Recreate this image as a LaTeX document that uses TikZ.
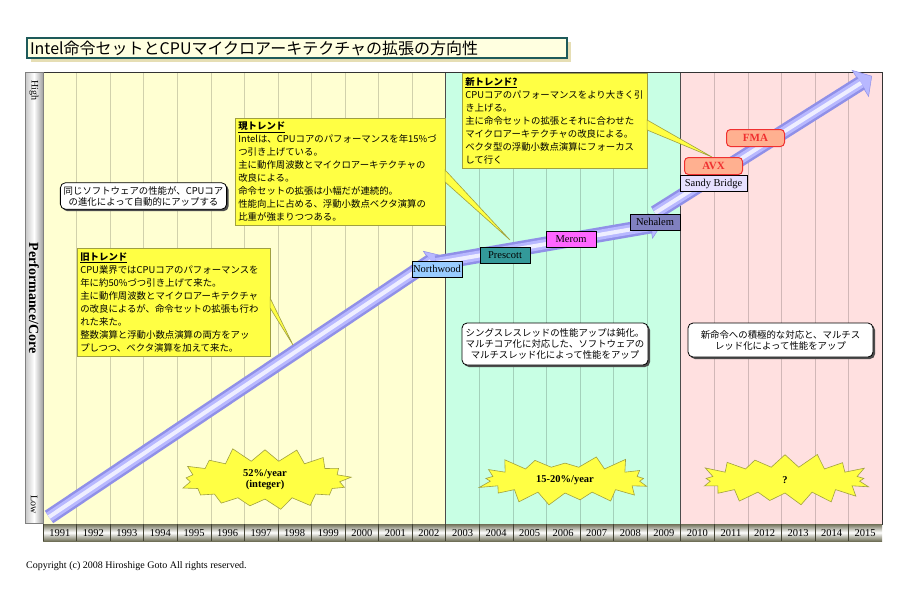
\documentclass[tikz,border=0pt]{standalone}
\usepackage{fontspec}
\usepackage{tikz}
\setmainfont{Liberation Serif}
\newfontfamily\jp{Noto Sans CJK JP}
\usetikzlibrary{shapes.symbols}
\usetikzlibrary{shadows}
\usetikzlibrary{positioning}
\usetikzlibrary{calc}
\usetikzlibrary{arrows.meta}
\definecolor{oldbg}{HTML}{FFFFD2}
\definecolor{curbg}{HTML}{C8FFE4}
\definecolor{newbg}{HTML}{FFE0E0}
\definecolor{memo}{HTML}{FFFF44}
\definecolor{memoline}{HTML}{A0A040}
\definecolor{tubeout}{HTML}{9090E8}
\definecolor{tubemid}{HTML}{B8B8FF}
\definecolor{tubein}{HTML}{EEEEFF}
\definecolor{titleline}{HTML}{1E5A5A}
\definecolor{titlebg}{HTML}{FFFFE0}
\definecolor{titleshadow}{HTML}{E6DEB4}
\definecolor{barolive}{HTML}{707058}
\definecolor{avxfill}{HTML}{FFB090}
\definecolor{avxline}{HTML}{F03030}
\definecolor{northwoodc}{HTML}{99CCFF}
\definecolor{prescottc}{HTML}{339999}
\definecolor{meromc}{HTML}{FF66FF}
\definecolor{nehalemc}{HTML}{8080C0}
\definecolor{sandyc}{HTML}{E6E0FF}
\tikzset{
  memo/.style={draw=memoline, fill=memo, line width=0.6pt, align=left, anchor=north west, inner sep=3pt, font=\jp\fontsize{9.4}{13}\selectfont},
  pointer/.style={draw=memoline, fill=memo, line width=0.6pt},
  note/.style={draw, fill=white, rounded corners=5pt, align=center, line width=0.8pt, font=\jp\fontsize{9.4}{11}\selectfont, drop shadow={shadow xshift=2pt, shadow yshift=-2pt, fill=black!70, opacity=1}},
  chip/.style={draw, line width=1pt, minimum width=50pt, minimum height=16pt, inner sep=1pt, font=\fontsize{10.5}{11}\selectfont},
  isa/.style={draw=avxline, fill=avxfill, rounded corners=4pt, line width=1pt, minimum width=58pt, minimum height=17pt, text=avxline, font=\bfseries\fontsize{11}{12}\selectfont},
  burst/.style={starburst, draw=memoline, fill=memo, line width=0.6pt, starburst points=17, starburst point height=15pt, minimum width=180pt, minimum height=56pt, align=center, font=\bfseries\fontsize{10.5}{11}\selectfont},
  tube/.style={line width=15pt, draw=tubeout, postaction={draw=tubemid, line width=10pt}, postaction={draw=tubein, line width=4pt}},
  gridline/.style={draw=black, draw opacity=0.18, line width=0.5pt},
  yearlbl/.style={font=\fontsize{10.5}{11}\selectfont, inner sep=0pt}
}

\begin{document}
\begin{tikzpicture}[x=1pt, y=-1pt]
\useasboundingbox (0,0) rectangle (920,600);

\fill[oldbg] (43,72) rectangle (445.7,524);
\fill[curbg] (445.7,72) rectangle (680.6,524);
\fill[newbg] (680.6,72) rectangle (882,524);
\foreach \i in {1,...,24}
  \draw[gridline] (43+\i*33.56,72) -- (43+\i*33.56,524);
\draw[black!70, line width=1pt] (445.7,72) -- (445.7,524);
\draw[black!70, line width=1pt] (680.6,72) -- (680.6,524);
\draw[black!80, line width=1pt] (43,72) rectangle (882,524);

\shade[left color=gray!45, right color=gray!75, middle color=white] (25,72) rectangle (43,523);
\draw[gray, line width=0.5pt] (25,72) rectangle (43,523);
\node (high) [rotate=-90, font=\fontsize{10}{10}\selectfont] at (34,90) {High};
\node (perf) [rotate=-90, font=\bfseries\fontsize{14}{14}\selectfont] at (34,298) {Performance/Core};
\node (low) [rotate=-90, font=\fontsize{10}{10}\selectfont] at (34,505) {Low};

\shade[top color=barolive, bottom color=barolive, middle color=white] (43,524) rectangle (882,541);
\foreach \yr [count=\i from 0] in {1991,...,2015} {
  \draw[barolive!60!black, line width=0.5pt] (43+\i*33.56,524) -- (43+\i*33.56,541);
  \node (y\yr) [yearlbl] at (43+\i*33.56+16.78,533) {\yr};
}

\coordinate (s1) at (49,517);
\coordinate (e1) at (440,255);
\coordinate (s2) at (436,263);
\coordinate (e2) at (662,224);
\coordinate (s3) at (655,213);
\coordinate (e3) at (872,76);
\draw[tubeout, line width=0.5pt, -{Triangle[length=12pt, width=26pt, fill=tubemid]}] (s1) -- (e1);
\draw[tube] (s1) -- ($(e1)!11pt!(s1)$);
\draw[tubeout, line width=0.5pt, -{Triangle[length=12pt, width=26pt, fill=tubemid]}] (s2) -- (e2);
\draw[tube] (s2) -- ($(e2)!11pt!(s2)$);
\draw[tubeout, line width=0.5pt, -{Triangle[length=14pt, width=32pt, fill=tubemid]}] (s3) -- (e3);
\draw[tube] (s3) -- ($(e3)!13pt!(s3)$);

\node (oldtrend) [memo, text width=187pt, minimum height=108pt] at (77,248) {\underline{\textbf{旧トレンド}}\\CPU業界ではCPUコアのパフォーマンスを\\年に約50\%づつ引き上げて来た。\\主に動作周波数とマイクロアーキテクチャ\\の改良によるが、命令セットの拡張も行わ\\れた来た。\\整数演算と浮動小数点演算の両方をアッ\\プしつつ、ベクタ演算を加えて来た。};
\node (curtrend) [memo, text width=204pt, minimum height=107pt] at (235,118) {\underline{\textbf{現トレンド}}\\Intelは、CPUコアのパフォーマンスを年15\%づ\\つ引き上げている。\\主に動作周波数とマイクロアーキテクチャの\\改良による。\\命令セットの拡張は小幅だが連続的。\\性能向上に占める、浮動小数点ベクタ演算の\\比重が強まりつつある。};
\node (newtrend) [memo, text width=179pt, minimum height=95pt] at (462,73) {\underline{\textbf{新トレンド?}}\\CPUコアのパフォーマンスをより大きく引\\き上げる。\\主に命令セットの拡張とそれに合わせた\\マイクロアーキテクチャの改良による。\\ベクタ型の浮動小数点演算にフォーカス\\して行く};
\coordinate (oldtip) at (293,345);
\coordinate (curtip) at (510,240);
\coordinate (newtip) at (712,157);
\draw[pointer] ($(oldtrend.north east)+(-0.5,50)$) -- ($(oldtrend.north east)+(-0.5,60)$) -- (oldtip) -- cycle;
\draw[pointer] ($(curtrend.north east)+(-0.5,52)$) -- ($(curtrend.north east)+(-0.5,64)$) -- (curtip) -- cycle;
\draw[pointer] ($(newtrend.north east)+(-0.5,47)$) -- ($(newtrend.north east)+(-0.5,57)$) -- (newtip) -- cycle;

\node (samesw) [note] at (143.5,196) {同じソフトウェアの性能が、CPUコア\\の進化によって自動的にアップする};
\node (singlethr) [note, minimum width=186pt, minimum height=42pt] at (555,344) {シングスレスレッドの性能アップは鈍化。\\マルチコア化に対応した、ソフトウェアの\\マルチスレッド化によって性能をアップ};
\node (newisa) [note, minimum width=185pt, minimum height=34pt] at (780.5,340) {新命令への積極的な対応と、マルチス\\レッド化によって性能をアップ};

\node (northwood) [chip, fill=northwoodc] at (437,269) {Northwood};
\node (prescott) [chip, fill=prescottc, right of=northwood, node distance=68pt, yshift=14pt] {Prescott};
\node (merom) [chip, fill=meromc, right of=prescott, node distance=66pt, yshift=16pt] {Merom};
\node (nehalem) [chip, fill=nehalemc, right of=merom, node distance=84pt, yshift=17pt] {Nehalem};
\node (sandy) [chip, fill=sandyc, minimum width=67pt] at (713.5,183.5) {Sandy Bridge};
\node (avx) [isa, above=0pt of sandy] {AVX};
\node (fma) [isa, right of=avx, node distance=42pt, yshift=28pt] {FMA};

\node (intburst) [burst, random starburst=11] at (265,480) {52\%/year\\(integer)};
\node (curburst) [burst, random starburst=23] at (565,480) {15-20\%/year};
\node (newburst) [burst, random starburst=37] at (785,480) {?};

\node (title) [anchor=west, draw=titleline, line width=2pt, fill=titlebg, text width=534pt, minimum height=20pt, inner sep=3pt, font=\jp\fontsize{16}{18}\selectfont, drop shadow={shadow xshift=4pt, shadow yshift=-4pt, fill=titleshadow, opacity=1}] at (26,48) {Intel命令セットとCPUマイクロアーキテクチャの拡張の方向性};
\node (copyright) [anchor=west, inner sep=0pt, font=\fontsize{10}{10}\selectfont] at (26,566) {Copyright (c) 2008 Hiroshige Goto All rights reserved.};
\end{tikzpicture}
\end{document}
